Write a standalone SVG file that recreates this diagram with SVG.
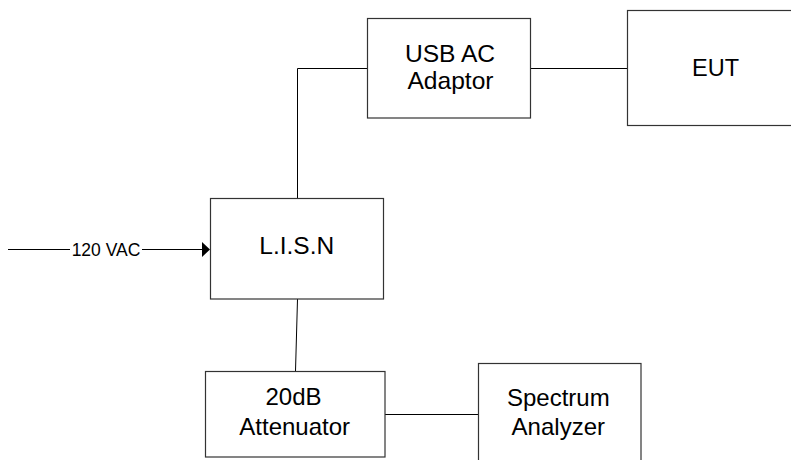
<svg xmlns="http://www.w3.org/2000/svg" width="791" height="460" viewBox="0 0 791 460">
  <style>
    .box { fill: #fff; stroke: #333; stroke-width: 1.2; }
    .wire { fill: none; stroke: #000; stroke-width: 1; }
    .lbl { font-family: "Liberation Sans", Arial, sans-serif; fill: #000; text-anchor: middle; font-size: 24px; }
  </style>
  <rect width="791" height="460" fill="#fff"/>

  <g id="connectors">
    <!-- mains feed into the LISN -->
    <line class="wire" x1="8" y1="249.5" x2="70" y2="249.5"/>
    <line class="wire" x1="142" y1="249.5" x2="203" y2="249.5"/>
    <polygon points="202,242 210,249.5 202,257" fill="#000"/>
    <text class="lbl" x="106" y="255.5" style="font-size:17.5px">120 VAC</text>
    <!-- LISN to adaptor -->
    <polyline class="wire" points="297.5,198 297.5,68.5 368,68.5"/>
    <!-- adaptor to EUT -->
    <line class="wire" x1="530.5" y1="68.5" x2="627.5" y2="68.5"/>
    <!-- LISN to attenuator -->
    <line class="wire" x1="297.5" y1="299" x2="295.5" y2="371"/>
    <!-- attenuator to analyzer -->
    <line class="wire" x1="385" y1="414.5" x2="478.5" y2="414.5"/>
  </g>

  <g id="usb-adaptor">
    <rect class="box" x="367.5" y="18.5" width="163" height="99.5"/>
    <text class="lbl" x="450" y="61.5" style="font-size:24.6px">USB AC</text>
    <text class="lbl" x="450.5" y="88.5" style="font-size:24.6px">Adaptor</text>
  </g>

  <g id="eut">
    <rect class="box" x="627.5" y="10.5" width="180" height="115"/>
    <text class="lbl" x="715.5" y="75.5" style="font-size:23.5px">EUT</text>
  </g>

  <g id="lisn">
    <rect class="box" x="210.5" y="198.5" width="173" height="100.5"/>
    <text class="lbl" x="296.7" y="254" style="font-size:24.5px">L.I.S.N</text>
  </g>

  <g id="attenuator">
    <rect class="box" x="205.5" y="371.5" width="179.5" height="85.5"/>
    <text class="lbl" x="293.5" y="405">20dB</text>
    <text class="lbl" x="294.7" y="435">Attenuator</text>
  </g>

  <g id="spectrum-analyzer">
    <rect class="box" x="478.5" y="363.5" width="162.5" height="110"/>
    <text class="lbl" x="558.3" y="406">Spectrum</text>
    <text class="lbl" x="558.3" y="435">Analyzer</text>
  </g>
</svg>
